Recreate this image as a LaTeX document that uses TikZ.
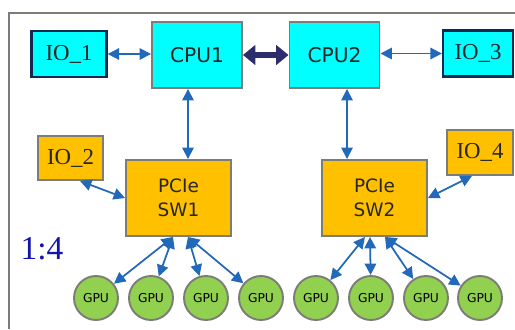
\documentclass[tikz,border=0pt]{standalone}
\usepackage{fontspec}
\setmainfont{Liberation Serif}
\newfontfamily\boxfont{DejaVu Sans}
\usetikzlibrary{arrows.meta}
\definecolor{cpucyan}{RGB}{0,255,255}
\definecolor{swgold}{RGB}{255,192,0}
\definecolor{gpugreen}{RGB}{146,208,80}
\definecolor{boxgray}{RGB}{125,125,120}
\definecolor{iodark}{RGB}{20,40,80}
\definecolor{linkblue}{RGB}{35,105,185}
\definecolor{qpinavy}{RGB}{45,45,110}
\definecolor{ratioblue}{RGB}{20,20,170}
\tikzset{
	box/.style={draw=boxgray,line width=1.1pt,inner sep=0pt,text=black!85},
	cpu/.style={box,fill=cpucyan,minimum width=1.8cm,minimum height=1.32cm,font=\boxfont\fontsize{11.5}{13}\selectfont},
	ioc/.style={box,draw=iodark,line width=1.3pt,fill=cpucyan,minimum width=1.5cm,minimum height=0.92cm,font=\fontsize{13}{15}\selectfont},
	iog/.style={box,fill=swgold,minimum width=1.3cm,minimum height=0.88cm,font=\fontsize{13}{15}\selectfont},
	sw/.style={box,fill=swgold,minimum width=2.1cm,minimum height=1.52cm,align=center,font=\boxfont\fontsize{10.5}{13.5}\selectfont},
	gpu/.style={circle,draw=boxgray,line width=1.1pt,fill=gpugreen,minimum size=0.88cm,inner sep=0pt,font=\boxfont\fontsize{7}{8}\selectfont},
	link/.style={linkblue,line width=1pt,{Triangle[length=6.5pt,width=6.5pt]}-{Triangle[length=6.5pt,width=6.5pt]}},
}
\begin{document}
\begin{tikzpicture}[x=0.02cm,y=-0.02cm]
	\useasboundingbox (0,0) rectangle (515,329);
	\draw[boxgray,line width=1.3pt] (9,329) |- (515,13);
	\node[ioc] (io1) at (69,54) {IO\_1};
	\node[cpu] (cpu1) at (197,55) {CPU1};
	\node[cpu] (cpu2) at (334.5,55) {CPU2};
	\node[ioc,minimum width=1.4cm] (io3) at (478,53.5) {IO\_3};
	\node[iog] (io2) at (70.5,158) {IO\_2};
	\node[sw] (sw1) at (178.5,198) {PCIe\\SW1};
	\node[iog,minimum width=1.32cm,minimum height=0.9cm] (io4) at (480,152.5) {IO\_4};
	\node[sw] (sw2) at (374.5,198) {PCIe\\SW2};
	\node[text=ratioblue,font=\fontsize{19}{21}\selectfont] (ratio) at (42,249) {1:4};
	\foreach \i/\x in {1/96,2/151,3/206,4/261,5/316,6/371,7/426,8/480}
		\node[gpu] (g\i) at (\x,298) {GPU};
	\draw[qpinavy,line width=3.5pt,{Triangle[length=7pt,width=11pt]}-{Triangle[length=7pt,width=11pt]}] (cpu1.east) -- (cpu2.west);
	\draw[link] (io1.east) -- (cpu1.west |- io1.east);
	\draw[link] (cpu2.east |- io3.west) -- (io3.west);
	\draw[link] ([xshift=-0.18cm]cpu1.south) -- ([xshift=0.19cm]sw1.north);
	\draw[link] ([xshift=0.25cm]cpu2.south) -- ([xshift=-0.55cm]sw2.north);
	\draw[link] ([xshift=0.19cm]io2.south) -- (sw1.west);
	\draw[link] ([xshift=-0.16cm]io4.south) -- (sw2.east);
	\draw[link] ([xshift=-0.11cm]sw1.south) -- (g1);
	\draw[link] ([xshift=-0.11cm]sw1.south) -- (g2);
	\draw[link] ([xshift=0.19cm]sw1.south) -- (g3);
	\draw[link] ([xshift=0.19cm]sw1.south) -- (g4);
	\draw[link] ([xshift=-0.19cm]sw2.south) -- (g5);
	\draw[link] ([xshift=-0.09cm]sw2.south) -- (g6);
	\draw[link] ([xshift=0.21cm]sw2.south) -- (g7);
	\draw[link] ([xshift=0.21cm]sw2.south) -- (g8);
\end{tikzpicture}
\end{document}
